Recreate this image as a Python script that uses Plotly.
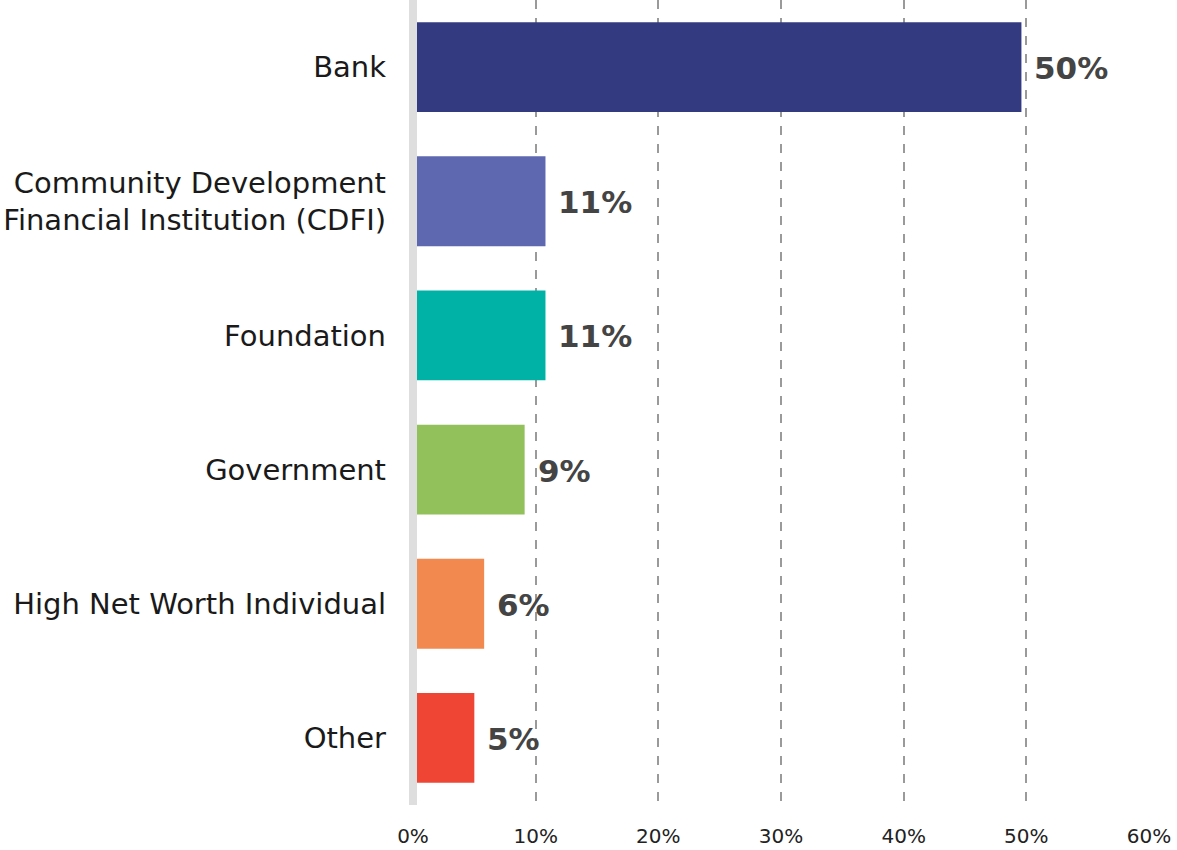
import plotly.graph_objects as go

categories = ["Bank", "Community Development<br>Financial Institution (CDFI)", "Foundation",
              "Government", "High Net Worth Individual", "Other"]
values = [49.6, 10.8, 10.8, 9.1, 5.8, 5.0]
value_labels = ["50%", "11%", "11%", "9%", "6%", "5%"]
colors = ["#333a80", "#5e68b0", "#00b2a5", "#92c05a", "#f2894f", "#ee4534"]
tick_vals = [0, 10, 20, 30, 40, 50, 60]
tick_text = ["0%", "10%", "20%", "30%", "40%", "50%", "60%"]

fig = go.Figure(go.Bar(
    x=values, y=categories, orientation="h",
    marker=dict(color=colors, line=dict(width=0)),
    hoverinfo="skip",
))

for c, v, t in zip(categories, values, value_labels):
    fig.add_annotation(x=v, y=c, text="<b>" + t + "</b>", showarrow=False,
                       xanchor="left", xshift=11, yshift=-1,
                       font=dict(family="DejaVu Sans", size=31, color="#444444"))

# light grey vertical axis line centred on 0 (paper coords: not clipped)
fig.add_shape(type="line", xref="paper", yref="paper", x0=0, x1=0, y0=0, y1=1,
              line=dict(color="#dedede", width=8), layer="above")

fig.update_layout(
    width=1177, height=850,
    margin=dict(l=413, r=28, t=0, b=45),
    plot_bgcolor="white", paper_bgcolor="white",
    bargap=0.33, showlegend=False,
    font=dict(family="DejaVu Sans", color="#1a1a1a"),
)
fig.update_xaxes(range=[0, 60], tickvals=tick_vals, ticktext=tick_text,
                 showgrid=True, gridcolor="#9a9a9a", griddash="dash", gridwidth=2,
                 zeroline=False, showline=False, ticks="",
                 ticklabelstandoff=17, tickfont=dict(size=20, color="#222222"))
fig.update_yaxes(autorange="reversed", showgrid=False, zeroline=False,
                 showline=False, ticks="",
                 ticklabelstandoff=26, tickfont=dict(size=29, color="#1a1a1a"))

fig.write_html("out.html", config={"displayModeBar": False},
               post_script="document.body.style.margin='0';")
